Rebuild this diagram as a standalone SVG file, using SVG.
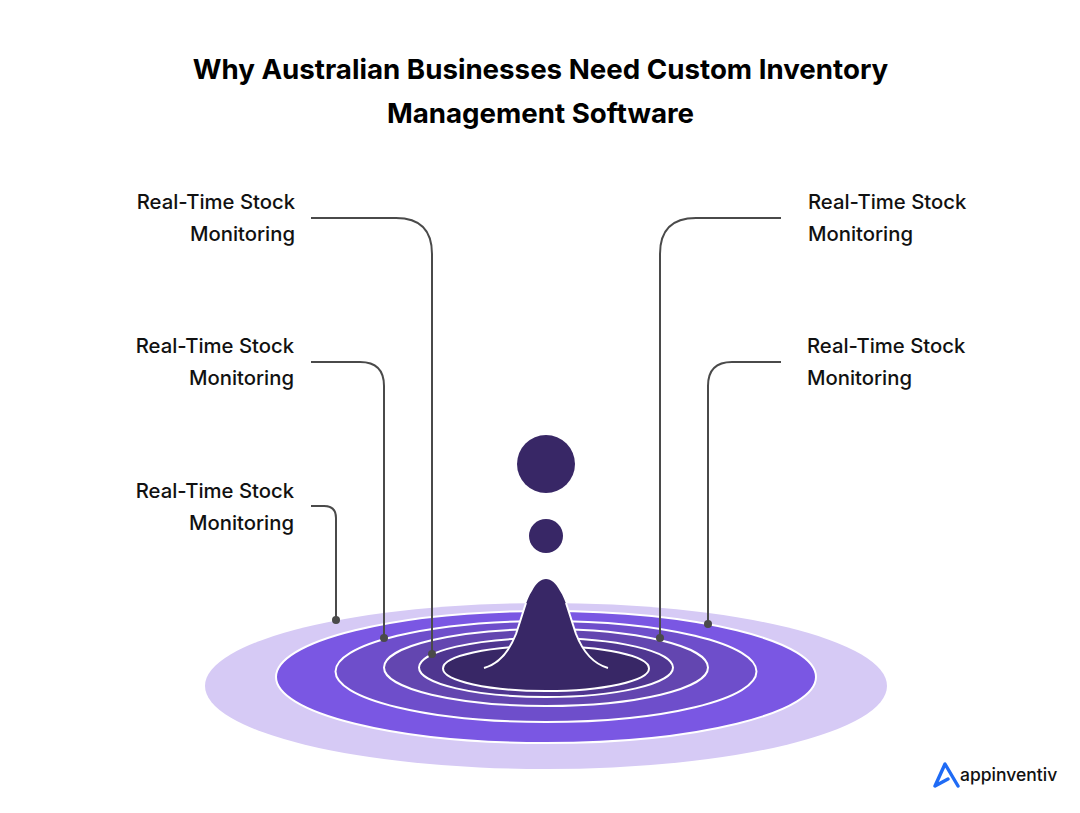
<svg xmlns="http://www.w3.org/2000/svg" width="1080" height="813" viewBox="0 0 1080 813">
<style>
.t{font-family:"Inter","Liberation Sans",sans-serif;font-weight:700;font-size:27.7px;fill:#000;text-anchor:middle}
.l{font-family:"Inter","Liberation Sans",sans-serif;font-weight:500;font-size:20.3px;fill:#111}
.e{text-anchor:end}
.r{stroke:#fff;stroke-width:2}
.c{fill:none;stroke:#4a4a4a;stroke-width:2}
.d{fill:#4a4a4a}
</style>
<rect width="1080" height="813" fill="#fff"/>
<g id="title">
<text class="t" x="540.5" y="79">Why Australian Businesses Need Custom Inventory</text>
<text class="t" x="540.5" y="123">Management Software</text>
</g>
<g id="ripple">
<ellipse cx="546" cy="686" rx="341" ry="83" fill="#d6caf5"/>
<ellipse class="r" cx="546" cy="677" rx="270" ry="66" fill="#7a57e3"/>
<ellipse class="r" cx="546" cy="671.5" rx="210.500" ry="50.5" fill="#6e4ecb"/>
<ellipse class="r" cx="546" cy="667.5" rx="162" ry="38.5" fill="#6346b0"/>
<ellipse class="r" cx="546" cy="667.5" rx="127" ry="29.5" fill="#4f3690"/>
<ellipse class="r" cx="546" cy="668.5" rx="103" ry="22.5" fill="#382766"/>
<path d="M484 668C498 664 509 652 516 634C523 614 526 600 532 591C536 583 541 579 546 579C551 579 556 583 560 591C566 600 569 614 576 634C583 652 594 664 608 668V680H484Z" fill="#382766"/>
<path d="M484 668C498 664 509 652 516 634C520 622 523 612 526 603M566 603C569 612 572 622 576 634C583 652 594 664 608 668" fill="none" stroke="#fff" stroke-width="2"/>
<circle cx="546" cy="464" r="29" fill="#382766"/>
<circle cx="546" cy="536" r="17" fill="#382766"/>
</g>
<g id="connectors">
<path class="c" d="M311 218H396Q432 218 432 254V654"/>
<path class="c" d="M311 362H360Q384 362 384 386V638"/>
<path class="c" d="M311 506H324Q336 506 336 518V620"/>
<path class="c" d="M781 218H696Q660 218 660 254V638"/>
<path class="c" d="M781 362H732Q708 362 708 386V624"/>
<circle class="d" cx="432" cy="654" r="4"/>
<circle class="d" cx="384" cy="638" r="4"/>
<circle class="d" cx="336" cy="620" r="4"/>
<circle class="d" cx="660" cy="638" r="4"/>
<circle class="d" cx="708" cy="624" r="4"/>
</g>
<g id="label-left-1"><text class="l e" x="295" y="208.500">Real-Time Stock</text><text class="l e" x="295" y="240.500">Monitoring</text></g>
<g id="label-left-2"><text class="l e" x="294" y="352.500">Real-Time Stock</text><text class="l e" x="294" y="384.500">Monitoring</text></g>
<g id="label-left-3"><text class="l e" x="294" y="497.500">Real-Time Stock</text><text class="l e" x="294" y="529.500">Monitoring</text></g>
<g id="label-right-1"><text class="l" x="808" y="208.500">Real-Time Stock</text><text class="l" x="808" y="240.500">Monitoring</text></g>
<g id="label-right-2"><text class="l" x="807" y="352.500">Real-Time Stock</text><text class="l" x="807" y="384.500">Monitoring</text></g>
<g id="logo">
<path d="M958 786L945 764L935 786L948 779" fill="none" stroke="#1f6bf5" stroke-width="3.4" stroke-linejoin="round" stroke-linecap="round"/>
<text x="960" y="781" font-family="Inter,'Liberation Sans',sans-serif" font-weight="500" font-size="17.5" fill="#111">appinventiv</text>
</g>
</svg>
